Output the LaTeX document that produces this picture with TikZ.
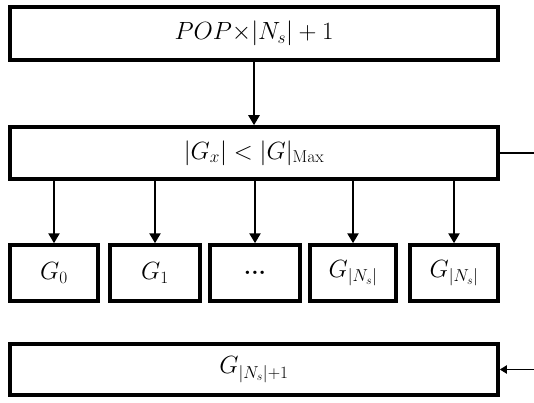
\documentclass[tikz,border=0pt]{standalone}
\usetikzlibrary{arrows.meta}
\begin{document}
\begin{tikzpicture}[x=1pt,y=-1pt,
 box/.style={draw, line width=3.5pt, inner sep=0pt, font=\fontsize{23.5}{28}\selectfont},
 conn/.style={line width=2.8pt, -{Triangle[width=11pt,length=10pt]}},
 thinconn/.style={line width=1.8pt, -{Triangle[width=8pt,length=7pt]}}]
\clip (0,0) rectangle (534,403);
\fill[white] (0,0) rectangle (534,403);
\node[box, minimum width=488pt, minimum height=53pt] (top) at (254,33.5) {$POP{\times}|N_s|+1$};
\node[box, minimum width=488pt, minimum height=52pt] (mid) at (254,153) {$|G_x|<|G|_{\mathrm{Max}}$};
\node[box, minimum width=88pt, minimum height=56pt] (g0) at (54,273) {$G_0$};
\node[box, minimum width=90pt, minimum height=56pt] (g1) at (155,273) {$G_1$};
\node[box, minimum width=90pt, minimum height=56pt] (g2) at (255,273) {\textbf{...}};
\node[box, minimum width=86pt, minimum height=56pt] (g3) at (353,273) {$G_{|N_s|}$};
\node[box, minimum width=88pt, minimum height=56pt] (g4) at (454,273) {$G_{|N_s|}$};
\node[box, minimum width=488pt, minimum height=51pt] (bot) at (254,369.5) {$G_{|N_s|+1}$};
\draw[conn] (top.south) -- (mid.north);
\foreach \n in {g0,g1,g2,g3,g4}{
  \draw[conn] (mid.south -| \n.north) -- (\n.north);
}
\draw[thinconn] (mid.east) -- ++(60,0) coordinate (r) |- (bot.east);
\end{tikzpicture}
\end{document}
